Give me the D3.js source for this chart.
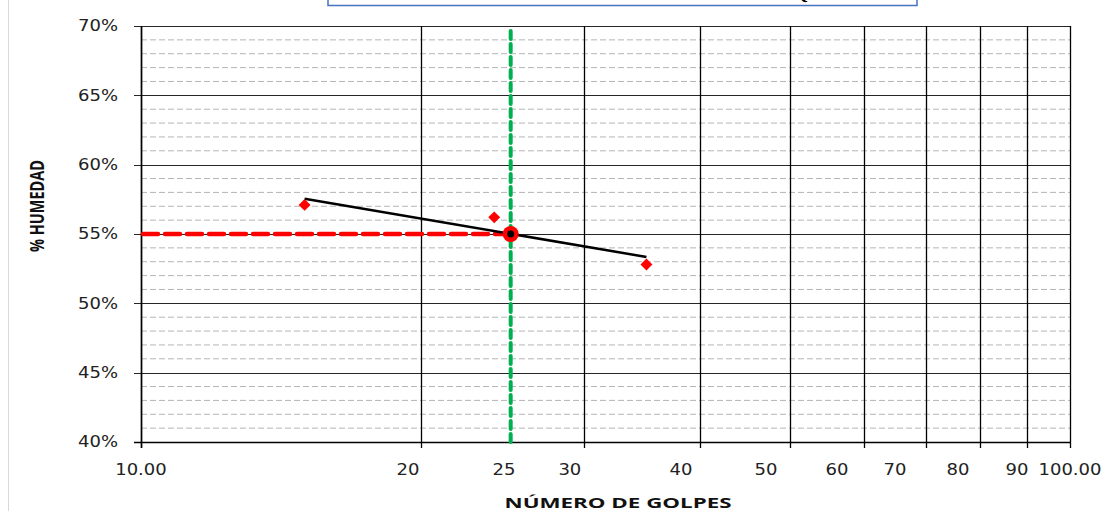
<!DOCTYPE html>
<html><head><meta charset="utf-8">
<script src="https://cdn.jsdelivr.net/npm/d3@7"></script>
<style>html,body{margin:0;padding:0;background:#fff;overflow:hidden}</style>
</head><body>
<svg id="chart" width="1112" height="511"></svg>
<script>
// ---- data ----
const golpes = [15, 24, 35];
const humedad = [57.1, 56.2, 52.8];
const limiteGolpes = 25;
const limiteLiquido = 55.0;
const yTicks = [40, 45, 50, 55, 60, 65, 70];
const yMinor = d3.range(40, 70, 1).filter(v => v % 5 !== 0);
const xGrid = [10, 20, 30, 40, 50, 60, 70, 80, 90, 100];
const xLabelText = ["10.00", "20", "25", "30", "40", "50", "60", "70", "80", "90", "100.00"];
const xLabelAt = [10, 19.38, 24.59, 28.95, 38.13, 47.08, 56.13, 64.8, 75.75, 87.68, 100];
const titleText = "LÍMITE LÍQUIDO";

// ---- layout ----
const L = 141, R = 1070, T = 26, B = 442;
const svg = d3.select("#chart");
const x = d3.scaleLog().domain([10, 100]).range([L, R]);
const y = d3.scaleLinear().domain([40, 70]).range([B, T]);
const SX = 1.2; // horizontal stretch of text

// outer chart frame line (left)
svg.append("line").attr("x1", 8.5).attr("x2", 8.5).attr("y1", 0).attr("y2", 511)
  .attr("stroke", "#d9d9d9").attr("stroke-width", 1);

// title box (cut off at top, as in the reference)
svg.append("rect").attr("x", 328).attr("y", -30).attr("width", 589).attr("height", 35.5)
  .attr("fill", "#fff").attr("stroke", "#4472C4").attr("stroke-width", 1.5);
const tt = svg.append("text").attr("x", 0).attr("y", -1.5)
  .attr("font-family", "Liberation Serif").attr("font-weight", "bold").attr("font-size", 18)
  .text(titleText);
{
  const qi = titleText.indexOf("Q");
  const qx = tt.node().getStartPositionOfChar(qi).x;
  tt.attr("x", 794 - qx);
}

// minor dashed gridlines
svg.append("g").selectAll("line").data(yMinor).join("line")
  .attr("x1", L).attr("x2", R).attr("y1", d => y(d)).attr("y2", d => y(d))
  .attr("stroke", "#b5b5b5").attr("stroke-width", 1).attr("stroke-dasharray", "6,3");

// major horizontal gridlines
svg.append("g").selectAll("line").data(yTicks).join("line")
  .attr("x1", L - 7).attr("x2", R).attr("y1", d => Math.round(y(d)) + 0.5).attr("y2", d => Math.round(y(d)) + 0.5)
  .attr("stroke", "#262626").attr("stroke-width", 1.2);

// vertical gridlines
svg.append("g").selectAll("line").data(xGrid).join("line")
  .attr("x1", d => Math.round(x(d)) + 0.5).attr("x2", d => Math.round(x(d)) + 0.5)
  .attr("y1", T).attr("y2", B + 6)
  .attr("stroke", "#000").attr("stroke-width", 1.3);

// axis lines
svg.append("line").attr("x1", L + 0.5).attr("x2", L + 0.5).attr("y1", T).attr("y2", B + 6).attr("stroke", "#000").attr("stroke-width", 1.5);
svg.append("line").attr("x1", L - 7).attr("x2", R).attr("y1", B + 0.5).attr("y2", B + 0.5).attr("stroke", "#000").attr("stroke-width", 1.5);

function stretch(sel, f) {
  sel.each(function () {
    const w = this.getComputedTextLength();
    d3.select(this).attr("textLength", w * f).attr("lengthAdjust", "spacingAndGlyphs");
  });
}

// y tick labels
const yl = svg.append("g").selectAll("text").data(yTicks).join("text")
  .attr("x", 118).attr("y", d => y(d)).attr("dy", "0.36em").attr("text-anchor", "end")
  .attr("font-family", "DejaVu Sans").attr("font-size", 15).attr("fill", "#222")
  .text(d => d + "%");
stretch(yl, SX);

// x tick labels
const xl = svg.append("g").selectAll("text").data(xLabelText).join("text")
  .attr("x", (d, i) => x(xLabelAt[i])).attr("y", 475).attr("text-anchor", "middle")
  .attr("font-family", "DejaVu Sans").attr("font-size", 15).attr("fill", "#222")
  .text(d => d);
stretch(xl, SX);

// axis titles
svg.append("text").attr("x", 618).attr("y", 508).attr("text-anchor", "middle")
  .attr("font-family", "Open Sans").attr("font-weight", "bold").attr("font-size", 15)
  .attr("textLength", 227).attr("lengthAdjust", "spacingAndGlyphs").attr("fill", "#111")
  .text("NÚMERO DE GOLPES");
svg.append("text").attr("transform", "translate(44,206) scale(1.3,1) rotate(-90)")
  .attr("text-anchor", "middle")
  .attr("font-family", "Open Sans").attr("font-weight", "bold").attr("font-size", 14.5).attr("fill", "#111")
  .text("% HUMEDAD");

// red dashed horizontal at LL
svg.append("line").attr("x1", L + 2).attr("x2", x(limiteGolpes)).attr("y1", y(limiteLiquido)).attr("y2", y(limiteLiquido))
  .attr("stroke", "#ff0000").attr("stroke-width", 4.5).attr("stroke-dasharray", "15,7").attr("stroke-linecap", "round");

// green dashed vertical at 25
svg.append("line").attr("x1", x(limiteGolpes)).attr("x2", x(limiteGolpes)).attr("y1", B).attr("y2", y(69.7))
  .attr("stroke", "#00B050").attr("stroke-width", 4).attr("stroke-dasharray", "8,5").attr("stroke-linecap", "round");

// logarithmic trendline (least squares on ln x)
const lx = golpes.map(Math.log);
const mx = d3.mean(lx), my = d3.mean(humedad);
const slope = d3.sum(lx.map((v, i) => (v - mx) * (humedad[i] - my))) / d3.sum(lx.map(v => (v - mx) ** 2));
const icpt = my - slope * mx;
const tx = [d3.min(golpes), d3.max(golpes)];
svg.append("path")
  .attr("d", d3.line().x(d => x(d)).y(d => y(icpt + slope * Math.log(d)))(tx))
  .attr("fill", "none").attr("stroke", "#000").attr("stroke-width", 2.6);

// diamonds
svg.append("g").selectAll("path").data(golpes).join("path")
  .attr("transform", (d, i) => `translate(${x(d)},${y(humedad[i])})`)
  .attr("d", d3.symbol().type(d3.symbolDiamond2).size(90))
  .attr("fill", "#ff0000");

// LL marker
svg.append("circle").attr("cx", x(limiteGolpes)).attr("cy", y(limiteLiquido)).attr("r", 8).attr("fill", "#ff0000");
svg.append("circle").attr("cx", x(limiteGolpes)).attr("cy", y(limiteLiquido)).attr("r", 3.5).attr("fill", "#000");
</script>
</body></html>
